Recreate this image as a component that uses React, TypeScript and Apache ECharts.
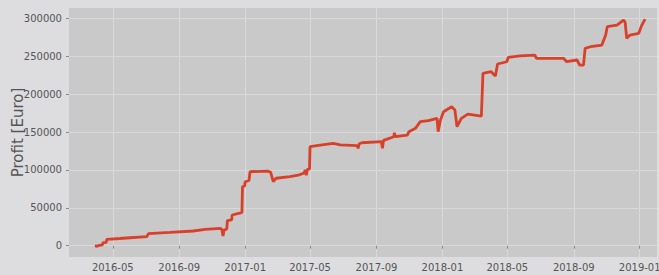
import React, { useEffect, useRef } from "react";
import * as echarts from "echarts";

const dates: string[] = [
  "2016-03-29", "2016-04-02", "2016-04-06", "2016-04-12", "2016-04-13", "2016-04-19", "2016-04-20",
  "2016-05-14", "2016-06-02", "2016-07-03", "2016-07-06", "2016-08-15", "2016-09-27", "2016-10-19",
  "2016-11-16", "2016-11-19", "2016-11-21", "2016-11-23", "2016-11-28", "2016-11-29", "2016-12-07",
  "2016-12-08", "2016-12-22", "2016-12-26", "2016-12-27", "2016-12-31", "2017-01-01", "2017-01-08",
  "2017-01-10", "2017-02-12", "2017-02-17", "2017-02-22", "2017-02-27", "2017-03-25", "2017-04-09",
  "2017-04-20", "2017-04-22", "2017-04-24", "2017-04-26", "2017-04-30", "2017-05-01", "2017-05-20",
  "2017-06-13", "2017-06-26", "2017-07-27", "2017-07-29", "2017-07-31", "2017-08-05", "2017-09-10",
  "2017-09-12", "2017-09-14", "2017-10-03", "2017-10-04", "2017-10-06", "2017-10-28", "2017-10-31",
  "2017-11-12", "2017-11-21", "2017-12-06", "2017-12-22", "2017-12-24", "2017-12-28", "2018-01-03",
  "2018-01-18", "2018-01-24", "2018-01-28", "2018-02-05", "2018-02-17", "2018-03-14", "2018-03-17",
  "2018-04-01", "2018-04-09", "2018-04-13", "2018-04-30", "2018-05-03", "2018-05-24", "2018-06-21",
  "2018-06-24", "2018-08-13", "2018-08-19", "2018-09-07", "2018-09-12", "2018-09-19", "2018-09-22",
  "2018-10-02", "2018-10-23", "2018-10-30", "2018-11-02", "2018-11-20", "2018-12-02", "2018-12-05",
  "2018-12-08", "2018-12-14", "2018-12-30", "2019-01-05", "2019-01-11",
];

const profit: number[] = [
  0, -800, 500, 1200, 4200, 4500, 8400,
  9500, 10500, 12000, 16000, 17500, 19400, 21500,
  23000, 21000, 12800, 21000, 22000, 33000, 34000,
  40500, 43000, 44000, 77800, 78500, 84400, 86000,
  97600, 98500, 97000, 84400, 89000, 91000, 93000,
  96000, 99800, 93000, 100800, 101000, 130600, 132800,
  135000, 133000, 132000, 128500, 134500, 135800, 137200,
  128500, 139000, 143800, 149000, 143800, 146000, 150500,
  154800, 163600, 165000, 168000, 150400, 165000, 176700,
  183300, 179000, 157000, 168000, 173700, 171000, 227400,
  229500, 223800, 239700, 242700, 248500, 250500, 251500,
  247200, 247200, 242700, 245000, 238300, 238300, 260400,
  262500, 264700, 277900, 288900, 291100, 297700, 295000,
  273600, 277900, 280100, 291100, 299000,
];

const xTicks: string[] = [
  "2016-05-01", "2016-09-01", "2017-01-01", "2017-05-01", "2017-09-01",
  "2018-01-01", "2018-05-01", "2018-09-01", "2019-01-01",
];
const yTicks: number[] = [0, 50000, 100000, 150000, 200000, 250000, 300000];

const parseDay = (s: string) => {
  const [y, m, d] = s.split("-").map(Number);
  return Date.UTC(y, m - 1, d);
};

export default function App() {
  const ref = useRef<HTMLDivElement>(null);
  useEffect(() => {
    if (!ref.current) return;
    const chart = echarts.init(ref.current, undefined, { renderer: "svg" });
    const xTickVals = xTicks.map(parseDay);
    chart.setOption({
      animation: false,
      backgroundColor: "#dddddf",
      grid: {
        left: 69,
        right: 2,
        top: 8,
        bottom: 18,
        show: true,
        backgroundColor: "#c9c9c9",
        borderWidth: 0,
        containLabel: false,
        outerBoundsMode: "none",
      },
      xAxis: {
        type: "value",
        min: parseDay("2016-02-10"),
        max: parseDay("2019-02-02"),
        axisLine: { show: false },
        axisTick: {
          show: true,
          length: 3,
          lineStyle: { color: "#8a8a8a", width: 1 },
          customValues: xTickVals,
        },
        axisLabel: {
          customValues: xTickVals,
          margin: 5,
          color: "#555555",
          fontSize: 10,
          fontFamily: "DejaVu Sans",
          formatter: (v: number) => {
            const d = new Date(v);
            const m = d.getUTCMonth() + 1;
            return d.getUTCFullYear() + "-" + (m < 10 ? "0" + m : "" + m);
          },
        },
        splitLine: { show: true, lineStyle: { color: "#d9d9d9", width: 1 } },
      },
      yAxis: {
        type: "value",
        min: -14900,
        max: 313600,
        name: "Profit [Euro]",
        nameLocation: "middle",
        nameGap: 44,
        nameMoveOverlap: false,
        nameTextStyle: { color: "#555555", fontSize: 15, fontFamily: "DejaVu Sans" },
        axisLine: { show: false },
        axisTick: {
          show: true,
          length: 3,
          lineStyle: { color: "#8a8a8a", width: 1 },
          customValues: yTicks,
        },
        axisLabel: {
          customValues: yTicks,
          margin: 7,
          color: "#555555",
          fontSize: 10,
          fontFamily: "DejaVu Sans",
          formatter: (v: number) => String(Math.round(v)),
        },
        splitLine: { show: true, lineStyle: { color: "#d9d9d9", width: 1 } },
      },
      series: [
        {
          type: "line",
          data: dates.map((d, i) => [parseDay(d), profit[i]]),
          showSymbol: false,
          symbol: "none",
          lineStyle: { color: "#d9402a", width: 2.8 },
          itemStyle: { color: "#d9402a" },
        },
      ],
    });
    return () => chart.dispose();
  }, []);
  return (
    <div
      ref={ref}
      style={{ position: "fixed", left: 0, top: 0, width: 659, height: 275 }}
    />
  );
}
